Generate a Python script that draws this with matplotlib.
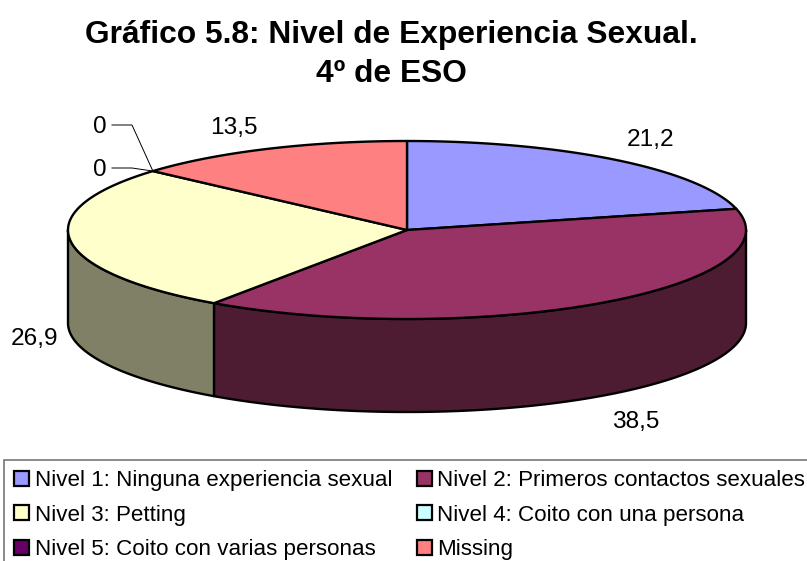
import numpy as np
import matplotlib
matplotlib.use('Agg')
import matplotlib.pyplot as plt
from matplotlib.patches import Patch, Polygon

plt.rcParams['font.family'] = ['Liberation Sans', 'DejaVu Sans']

# --- Data ---
TITLE = 'Gráfico 5.8: Nivel de Experiencia Sexual.\n4º de ESO'
categories = ['Nivel 1: Ninguna experiencia sexual', 'Nivel 2: Primeros contactos sexuales',
              'Nivel 3: Petting', 'Nivel 4: Coito con una persona',
              'Nivel 5: Coito con varias personas', 'Missing']
values = [21.2, 38.5, 26.9, 0, 0, 13.5]
value_labels = ['21,2', '38,5', '26,9', '0', '0', '13,5']
top_colors = ['#9999FF', '#993366', '#FFFFCC', '#CCFFFF', '#660066', '#FF8080']
side_colors = ['#4D4D80', '#4D1C33', '#808066', '#668080', '#330033', '#804040']

# --- Pie geometry, in image pixels ---
CX, CY = 407, 230
RX, RY = 339, 89
DEPTH = 93
LW = 1.7


def rim(t):
    # t is degrees clockwise from 12 o'clock
    t = np.radians(t)
    return CX + RX * np.sin(t), CY - RY * np.cos(t)


def top_face(a, b):
    t = np.linspace(a, b, 200)
    x, y = rim(t)
    return np.column_stack([np.r_[CX, x], np.r_[CY, y]])


def side_face(a, b):
    t = np.linspace(a, b, 200)
    x, y = rim(t)
    return np.column_stack([np.r_[x, x[::-1]], np.r_[y, y[::-1] + DEPTH]])


fig = plt.figure(figsize=(8.07, 5.61), dpi=100)
ax = fig.add_axes([0, 0, 1, 1])
ax.set_xlim(0, 807)
ax.set_ylim(561, 0)
ax.axis('off')

ax.text(391, 82, TITLE, ha='center', va='baseline', fontsize=22.9,
        fontweight='bold', linespacing=1.37)

# Slice limits from the values
edges = np.r_[0, np.cumsum(values)] / np.sum(values) * 360

# Walls first, only the front half of the disc shows
for i in range(len(values)):
    a, b = max(edges[i], 90), min(edges[i + 1], 270)
    if b > a:
        ax.add_patch(Polygon(side_face(a, b), closed=True, facecolor=side_colors[i],
                             edgecolor='black', linewidth=LW, joinstyle='round'))

for i in range(len(values)):
    if edges[i + 1] > edges[i]:
        ax.add_patch(Polygon(top_face(edges[i], edges[i + 1]), closed=True, facecolor=top_colors[i],
                             edgecolor='black', linewidth=LW, joinstyle='round'))

# Data labels
label_pos = [(651, 140), (636, 422), (34, 339), (100, 170), (100, 127), (234, 128)]
for text, (x, y) in zip(value_labels, label_pos):
    ax.text(x, y, text, ha='center', va='center', fontsize=17.6, color='black')

# Leader lines for the two zero slices
lx, ly = rim(edges[3])
ax.plot([112, 132, lx], [125, 125, ly], color='black', lw=0.7)
ax.plot([112, 132, lx], [168, 168, ly], color='black', lw=0.7)

# Legend, matplotlib fills columns first so reorder to read across the rows
order = [0, 2, 4, 1, 3, 5]
handles = [Patch(facecolor=top_colors[i], edgecolor='black', linewidth=1.6) for i in order]
leg = ax.legend(handles, [categories[i] for i in order], ncol=2, loc='upper left',
                bbox_to_anchor=(4, 460), bbox_transform=ax.transData, fontsize=16.15,
                frameon=True, fancybox=False, edgecolor='#777777', framealpha=1,
                borderpad=0.46, borderaxespad=0, handlelength=0.66, handleheight=0.66,
                handletextpad=0.24, columnspacing=1.12, labelspacing=0.6)
leg.get_frame().set_linewidth(1.2)

fig.savefig('out.png', dpi=100)
